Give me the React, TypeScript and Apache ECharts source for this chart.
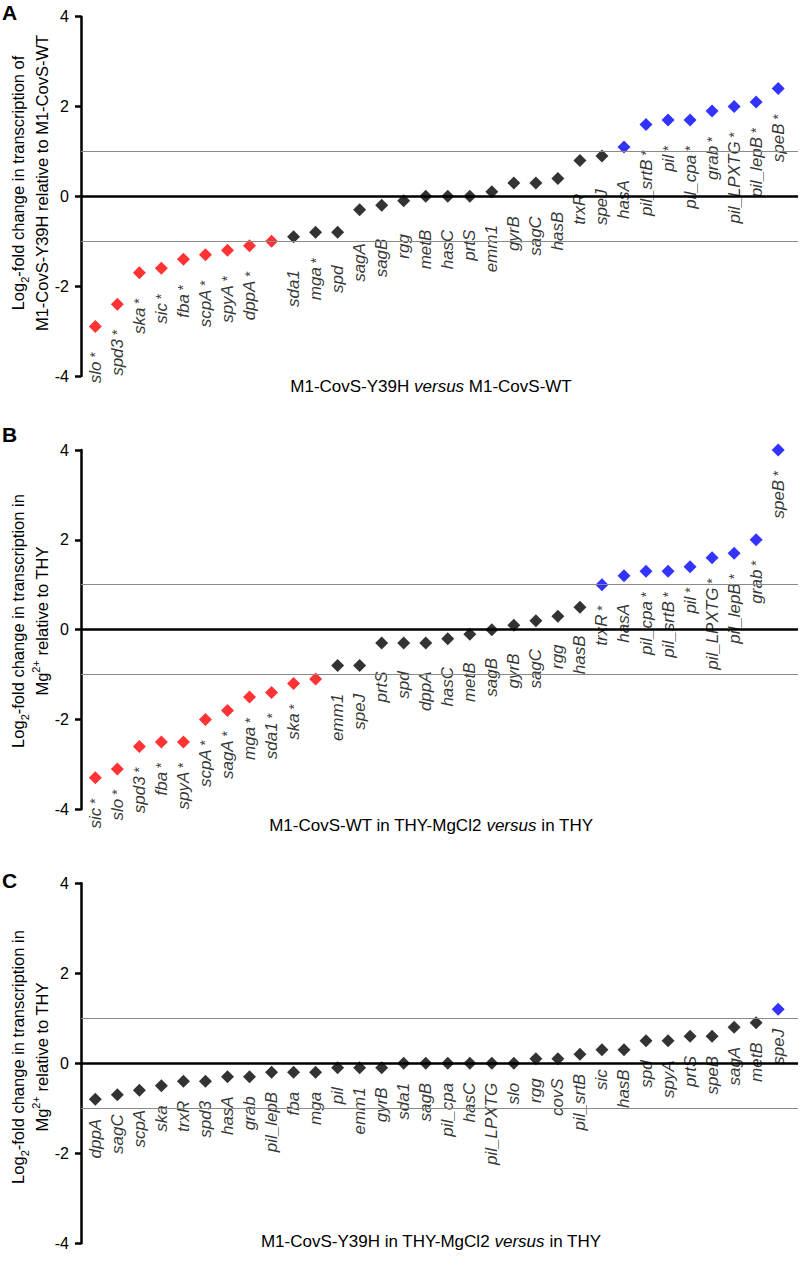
import React, { useEffect, useRef } from 'react';
import * as echarts from 'echarts';

// Panel A: M1-CovS-Y39H versus M1-CovS-WT (one point carries no label in the figure)
const genesA = ['slo *', 'spd3 *', 'ska *', 'sic *', 'fba *', 'scpA *', 'spyA *', 'dppA *', '', 'sda1', 'mga *', 'spd', 'sagA', 'sagB', 'rgg', 'metB', 'hasC', 'prtS', 'emm1', 'gyrB', 'sagC', 'hasB', 'trxR', 'speJ', 'hasA', 'pil_srtB *', 'pil *', 'pil_cpa *', 'grab *', 'pil_LPXTG *', 'pil_lepB *', 'speB *'];
const valuesA = [-2.9, -2.4, -1.7, -1.6, -1.4, -1.3, -1.2, -1.1, -1.0, -0.9, -0.8, -0.8, -0.3, -0.2, -0.1, 0, 0, 0, 0.1, 0.3, 0.3, 0.4, 0.8, 0.9, 1.1, 1.6, 1.7, 1.7, 1.9, 2.0, 2.1, 2.4];

// Panel B: M1-CovS-WT in THY-MgCl2 versus in THY
const genesB = ['sic *', 'slo *', 'spd3 *', 'fba *', 'spyA *', 'scpA *', 'sagA *', 'mga *', 'sda1 *', 'ska *', '', 'emm1', 'speJ', 'prtS', 'spd', 'dppA', 'hasC', 'metB', 'sagB', 'gyrB', 'sagC', 'rgg', 'hasB', 'trxR *', 'hasA', 'pil_cpa *', 'pil_srtB *', 'pil *', 'pil_LPXTG *', 'pil_lepB *', 'grab *', 'speB *'];
const valuesB = [-3.3, -3.1, -2.6, -2.5, -2.5, -2.0, -1.8, -1.5, -1.4, -1.2, -1.1, -0.8, -0.8, -0.3, -0.3, -0.3, -0.2, -0.1, 0, 0.1, 0.2, 0.3, 0.5, 1.0, 1.2, 1.3, 1.3, 1.4, 1.6, 1.7, 2.0, 4.0];

// Panel C: M1-CovS-Y39H in THY-MgCl2 versus in THY
const genesC = ['dppA', 'sagC', 'scpA', 'ska', 'trxR', 'spd3', 'hasA', 'grab', 'pil_lepB', 'fba', 'mga', 'pil', 'emm1', 'gyrB', 'sda1', 'sagB', 'pil_cpa', 'hasC', 'pil_LPXTG', 'slo', 'rgg', 'covS', 'pil_srtB', 'sic', 'hasB', 'spd', 'spyA', 'prtS', 'speB', 'sagA', 'metB', 'speJ'];
const valuesC = [-0.8, -0.7, -0.6, -0.5, -0.4, -0.4, -0.3, -0.3, -0.2, -0.2, -0.2, -0.1, -0.1, -0.1, 0, 0, 0, 0, 0, 0, 0.1, 0.1, 0.2, 0.3, 0.3, 0.5, 0.5, 0.6, 0.6, 0.8, 0.9, 1.2];

const yTicks = [-4, -2, 0, 2, 4];
const foldThreshold = 1;

const FONT = '"Liberation Sans", Arial, Helvetica, sans-serif';

export default function App() {
  const ref = useRef<HTMLDivElement>(null);

  useEffect(() => {
    if (!ref.current) return;
    const chart = echarts.init(ref.current, null, { renderer: 'svg', width: 800, height: 1263 });

    const grids = [
      { left: 81, width: 717, top: 16.7, height: 359.3 },
      { left: 81, width: 717, top: 450, height: 359.3 },
      { left: 81, width: 717, top: 883.3, height: 360 },
    ];

    const colorOf = (v: number) => (v >= foldThreshold ? '#0000ff' : v <= -foldThreshold ? '#ff0000' : '#000000');

    const fmt = (withStars: boolean) => (p: any) => {
      const n: string = p.name || '';
      if (!n) return '';
      if (n.endsWith(' *')) return `{g|${n.slice(0, -2)}}{s| *}`;
      return withStars ? `{g|${n}}{s|  }` : `{g|${n}}`;
    };

    const labelRich = {
      g: { fontStyle: 'italic', fontSize: 17, fontFamily: FONT, color: '#000' },
      s: { fontSize: 14, fontFamily: FONT, color: '#000' },
    };

    const panels = [
      { genes: genesA, values: valuesA, stars: true, dist: 19 },
      { genes: genesB, values: valuesB, stars: true, dist: 14 },
      { genes: genesC, values: valuesC, stars: false, dist: 13 },
    ];

    const series: any[] = [];
    panels.forEach((pn, gi) => {
      series.push({
        type: 'scatter',
        xAxisIndex: gi,
        yAxisIndex: gi,
        data: [],
        z: 1,
        silent: true,
        markLine: {
          silent: true,
          symbol: 'none',
          label: { show: false },
          data: [
            { yAxis: foldThreshold, lineStyle: { color: '#8a8a8a', width: 1.2, type: 'solid' } },
            { yAxis: -foldThreshold, lineStyle: { color: '#8a8a8a', width: 1.2, type: 'solid' } },
            { yAxis: 0, lineStyle: { color: '#000', width: 2.5, type: 'solid' } },
          ],
        },
      });
      series.push({
        type: 'scatter',
        xAxisIndex: gi,
        yAxisIndex: gi,
        z: 3,
        symbol: 'diamond',
        symbolSize: 13,
        data: pn.values.map((v, i) => ({
          value: [i, v],
          name: pn.genes[i],
          itemStyle: { color: colorOf(v) },
        })),
        label: {
          show: true,
          position: 'bottom',
          distance: pn.dist,
          rotate: 90,
          align: 'right',
          verticalAlign: 'middle',
          formatter: fmt(pn.stars),
          rich: labelRich,
        },
      });
    });

    const yAxes = grids.map((_, gi) => ({
      type: 'value',
      gridIndex: gi,
      min: yTicks[0],
      max: yTicks[yTicks.length - 1],
      interval: 2,
      axisLine: { show: true, onZero: false, lineStyle: { color: '#000', width: 2.5 } },
      axisTick: { show: true, length: 6, lineStyle: { color: '#000', width: 2.5 } },
      axisLabel: { fontSize: 16, color: '#000', margin: 12, fontFamily: FONT },
      splitLine: { show: false },
    }));

    const xAxes = grids.map((_, gi) => ({
      type: 'value',
      gridIndex: gi,
      min: -0.65,
      max: 31.9,
      show: false,
      axisLine: { onZero: false },
    }));

    const yNameRich = {
      n: { fontSize: 16.5, lineHeight: 24, fontFamily: FONT, fill: '#000' },
      sub: { fontSize: 11, lineHeight: 16, verticalAlign: 'bottom', fontFamily: FONT, fill: '#000' },
      sup: { fontSize: 11, lineHeight: 16, verticalAlign: 'top', fontFamily: FONT, fill: '#000' },
    };
    const titleRich = {
      n: { fontSize: 17, fontFamily: FONT, fill: '#000' },
      i: { fontSize: 17, fontStyle: 'italic', fontFamily: FONT, fill: '#000' },
    };

    const yName = (x: number, y: number, text: string) => ({
      type: 'text',
      x,
      y,
      rotation: Math.PI / 2,
      style: { text, rich: yNameRich, align: 'center', verticalAlign: 'middle', fill: '#000' },
    });
    const xTitle = (x: number, y: number, text: string) => ({
      type: 'text',
      x,
      y,
      style: { text, rich: titleRich, align: 'center', verticalAlign: 'middle', fill: '#000' },
    });
    const letter = (y: number, text: string) => ({
      type: 'text',
      x: 2,
      y,
      style: { text, fontSize: 21, fontWeight: 'bold', fontFamily: FONT, fill: '#000', align: 'left', verticalAlign: 'top' },
    });

    chart.setOption({
      animation: false,
      backgroundColor: '#fff',
      grid: grids,
      xAxis: xAxes,
      yAxis: yAxes,
      series,
      graphic: [
        letter(1.5, 'A'),
        letter(424, 'B'),
        letter(870, 'C'),
        yName(30, 183, '{n|Log}{sub|2}{n|-fold change in transcription of}\n{n|M1-CovS-Y39H relative to M1-CovS-WT}'),
        yName(30, 621, '{n|Log}{sub|2}{n|-fold change in transcription in}\n{n|Mg}{sup|2+}{n| relative to THY}'),
        yName(30, 1057, '{n|Log}{sub|2}{n|-fold change in transcription in}\n{n|Mg}{sup|2+}{n| relative to THY}'),
        xTitle(431, 386, '{n|M1-CovS-Y39H }{i|versus}{n| M1-CovS-WT}'),
        xTitle(431, 825, '{n|M1-CovS-WT in THY-MgCl2 }{i|versus}{n| in THY}'),
        xTitle(431, 1241, '{n|M1-CovS-Y39H in THY-MgCl2 }{i|versus}{n| in THY}'),
      ],
    });

    return () => chart.dispose();
  }, []);

  return (
    <div
      ref={ref}
      style={{ position: 'absolute', left: 0, top: 0, width: 800, height: 1263, background: '#fff' }}
    />
  );
}
